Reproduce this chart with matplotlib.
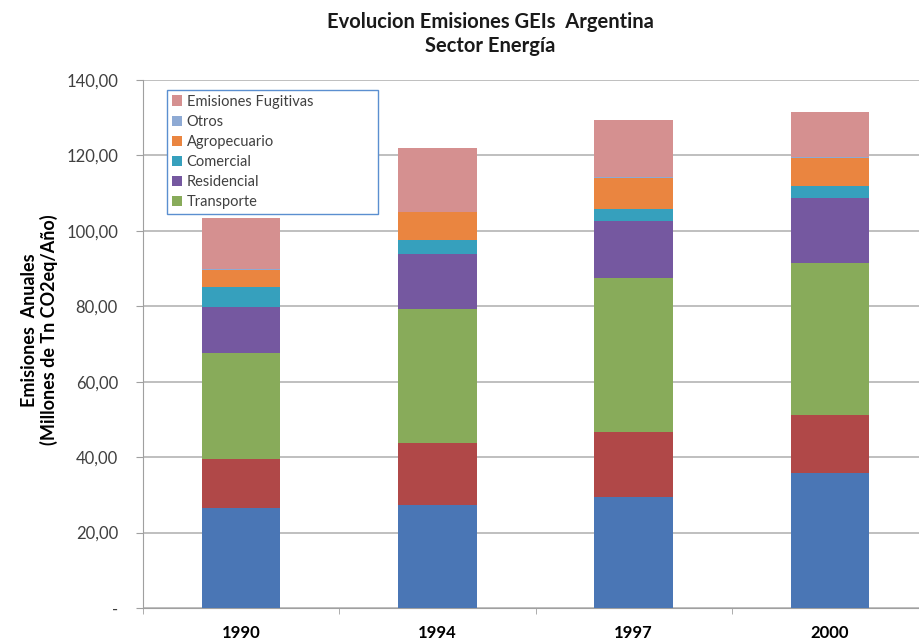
import numpy as np
import matplotlib.pyplot as plt
from matplotlib.patches import Patch

plt.rcParams['font.family'] = ['Lato', 'DejaVu Sans']

years = ['1990', '1994', '1997', '2000']

# series from bottom to top (Mt CO2eq/año)
serie_azul = [26.5, 27.3, 29.4, 35.8]
serie_roja = [13.0, 16.5, 17.3, 15.4]
transporte = [28.1, 35.5, 40.8, 40.3]
residencial = [12.2, 14.6, 15.2, 17.3]
comercial = [5.3, 3.7, 3.1, 3.1]
agropecuario = [4.6, 7.3, 8.3, 7.5]
otros = [0.2, 0.2, 0.2, 0.2]
fugitivas = [13.5, 16.9, 15.1, 12.0]

series = [
    (None, serie_azul, '#4a76b5'),
    (None, serie_roja, '#b04848'),
    ('Transporte', transporte, '#88ab5a'),
    ('Residencial', residencial, '#7558a0'),
    ('Comercial', comercial, '#36a0bd'),
    ('Agropecuario', agropecuario, '#ea8540'),
    ('Otros', otros, '#8eaad4'),
    ('Emisiones Fugitivas', fugitivas, '#d59090'),
]

fig = plt.figure(figsize=(9.19, 6.42), dpi=100)
ax = fig.add_axes([143 / 919, 34 / 642, 785 / 919, 528 / 642])

x = np.arange(len(years))
bottom = np.zeros(len(years))
handles = []
for name, vals, col in series:
    ax.bar(x, vals, 0.4, bottom=bottom, color=col, zorder=3)
    bottom += np.array(vals)
    if name:
        handles.append(Patch(facecolor=col, label=name))

ax.set_xlim(-0.5, 3.5)
ax.set_ylim(0, 140)
ax.set_yticks(np.arange(0, 141, 20))
ax.set_yticklabels(['-'] + ['%d,00' % v for v in range(20, 141, 20)],
                   fontsize=12, color='#404040')
ax.set_xticks(x)
ax.set_xticklabels(years, fontsize=12, fontweight='bold')
ax.tick_params(axis='x', length=0, pad=12)
ax.set_xticks(np.arange(-0.5, 4, 1), minor=True)
ax.tick_params(axis='x', which='minor', length=4, color='#a0a0a0', direction='out')
ax.tick_params(axis='y', length=5, color='#a0a0a0', pad=13)

ax.grid(axis='y', color='#b4b4b4', linewidth=1.2, zorder=0)
for s in ['top', 'right']:
    ax.spines[s].set_visible(False)
ax.spines['left'].set_color('#a0a0a0')
ax.spines['bottom'].set_color('#a0a0a0')

ax.set_ylabel('Emisiones  Anuales\n(Millones de Tn CO2eq/Año)',
              fontsize=13, fontweight='bold', linespacing=1.15)
ax.yaxis.set_label_coords((58 - 143) / 785, (608 - 330) / 528)

leg = ax.legend(handles=handles[::-1], loc='upper left',
                bbox_to_anchor=(24 / 785, 0.982, 211 / 785, 0.0), mode='expand',
                fontsize=10.5, frameon=True, fancybox=False, handlelength=0.7,
                handleheight=0.7, handletextpad=0.3, labelspacing=0.42,
                borderpad=0.35, borderaxespad=0)
leg.get_frame().set_edgecolor('#5b8fd0')
leg.get_frame().set_linewidth(1.0)
leg.get_frame().set_facecolor('white')
leg.get_frame().set_alpha(1)
for t in leg.get_texts():
    t.set_color('#404040')
leg.set_zorder(5)

fig.text(490 / 919, 1 - 12 / 642, 'Evolucion Emisiones GEIs  Argentina\nSector Energía',
         ha='center', va='top', fontsize=14.5, fontweight='bold',
         linespacing=1.25, color='#1a1a1a')

fig.savefig('out.png', dpi=100)
